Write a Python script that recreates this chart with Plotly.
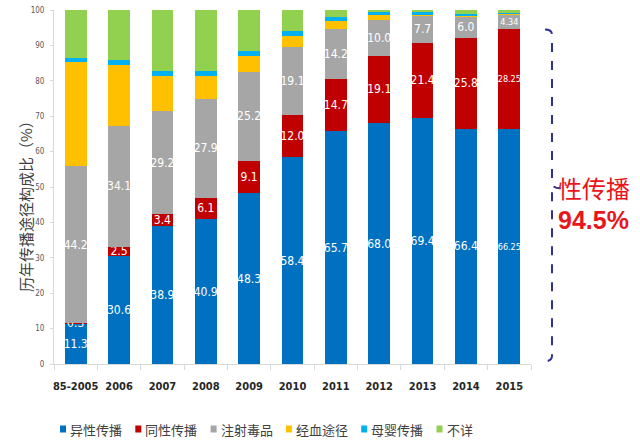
import plotly.graph_objects as go

categories = ["85-2005", "2006", "2007", "2008", "2009", "2010", "2011", "2012", "2013", "2014", "2015"]
series_names = ["异性传播", "同性传播", "注射毒品", "经血途径", "母婴传播", "不详"]
hetero = [11.3, 30.6, 38.9, 40.9, 48.3, 58.4, 65.7, 68.0, 69.4, 66.4, 66.25]
homo = [0.3, 2.5, 3.4, 6.1, 9.1, 12.0, 14.7, 19.1, 21.4, 25.8, 28.25]
idu = [44.2, 34.1, 29.2, 27.9, 25.2, 19.1, 14.2, 10.0, 7.7, 6.0, 4.34]
blood = [29.5, 17.2, 9.8, 6.4, 4.4, 3.2, 2.4, 1.4, 0.2, 0.2, 0.1]
mtct = [1.2, 1.4, 1.4, 1.4, 1.5, 1.4, 1.1, 0.8, 1.0, 0.5, 0.3]
unknown = [13.5, 14.2, 17.3, 17.3, 11.5, 5.9, 1.9, 0.7, 0.3, 1.1, 0.76]
colors = ["#0070C0", "#C00000", "#A6A6A6", "#FFC000", "#00B0F0", "#92D050"]
labeled = [True, True, True, False, False, False]
y_ticks = list(range(0, 101, 10))
y_title = "历年传播途径构成比（%）"
note_line1 = "性传播"
note_line2 = "94.5%"

series = [hetero, homo, idu, blood, mtct, unknown]

W, H = 640, 443
ML, MR, MT, MB = 54, 109, 10, 79
PW = W - ML - MR
PH = H - MT - MB
COND = "DejaVu Sans Condensed, DejaVu Sans, sans-serif"

def px_to_paper_x(px):
    return (px - ML) / PW

def px_to_paper_y(py):
    return (H - MB - py) / PH

fig = go.Figure()
for name, vals, col, lab in zip(series_names, series, colors, labeled):
    if lab:
        txt = [str(v) for v in vals]
        sizes = [9 if len(str(v).split(".")[-1]) > 1 else 12 for v in vals]
    else:
        txt = None
        sizes = 12
    fig.add_trace(go.Bar(
        x=categories, y=vals, name=name, marker=dict(color=col, line=dict(width=0)),
        text=txt, textposition="inside" if lab else "none", insidetextanchor="middle",
        textangle=0, constraintext="none",
        textfont=dict(family=COND, size=sizes, color="white"),
        showlegend=False,
    ))

fig.update_layout(
    barmode="stack", bargap=0.5,
    width=W, height=H,
    margin=dict(l=ML, r=MR, t=MT, b=MB, autoexpand=False),
    paper_bgcolor="white", plot_bgcolor="white",
    font=dict(family=COND, color="#404040"),
)
fig.update_xaxes(
    showline=True, linecolor="#D9D9D9", linewidth=1,
    ticks="outside", tickson="boundaries", ticklen=5, tickcolor="#D9D9D9",
    tickfont=dict(family=COND, size=11, color="#262626", weight="bold"),
    tickangle=0, automargin=False, ticklabelstandoff=12,
)
fig.update_yaxes(
    range=[0, 100], tickvals=y_ticks, showgrid=False,
    showline=True, linecolor="#D9D9D9", linewidth=1,
    ticks="outside", ticklen=3, tickcolor="#D9D9D9",
    tickfont=dict(family=COND, size=8, color="#595959"),
    ticklabelstandoff=4, zeroline=False, automargin=False,
)

# y-axis title
fig.add_annotation(
    text=y_title, textangle=-90, xref="paper", yref="paper",
    x=px_to_paper_x(25), y=px_to_paper_y(203), xanchor="center", yanchor="middle",
    showarrow=False,
    font=dict(family="Noto Sans CJK SC", size=15, color="#404040"),
)

# legend (manual)
leg_y = 429
for i, (name, col) in enumerate(zip(series_names, colors)):
    x0 = 60 + i * 75.3
    fig.add_shape(type="rect", xref="paper", yref="paper",
                  x0=px_to_paper_x(x0), x1=px_to_paper_x(x0 + 6),
                  y0=px_to_paper_y(leg_y + 3.5), y1=px_to_paper_y(leg_y - 3.5),
                  fillcolor=col, line=dict(width=0))
    fig.add_annotation(text=name, xref="paper", yref="paper",
                       x=px_to_paper_x(x0 + 8), y=px_to_paper_y(leg_y),
                       xanchor="left", yanchor="middle", showarrow=False,
                       font=dict(family="Noto Sans CJK SC", size=13, color="#404040"))

# brace for sexual transmission share of last year
top = hetero[-1] + homo[-1]
bot = 0.8
mid = (top + bot) / 2 + 2
xa, xb, xc = px_to_paper_x(545), px_to_paper_x(552), px_to_paper_x(561)
d = 1.5
path = (f"M{xa},{top} Q{xb},{top} {xb},{top - d} L{xb},{mid + d} Q{xb},{mid} {xc},{mid} "
        f"Q{xb},{mid} {xb},{mid - d} L{xb},{bot + d} Q{xb},{bot} {xa},{bot}")
fig.add_shape(type="path", xref="paper", yref="y", path=path,
              line=dict(color="#2E3192", width=2, dash="dash"))

fig.add_annotation(text=note_line1, xref="paper", yref="paper",
                   x=px_to_paper_x(556), y=px_to_paper_y(187), xanchor="left", yanchor="middle",
                   showarrow=False, font=dict(family="Noto Sans CJK SC", size=24, color="#E8161B"))
fig.add_annotation(text=note_line2, xref="paper", yref="paper",
                   x=px_to_paper_x(556), y=px_to_paper_y(220), xanchor="left", yanchor="middle",
                   showarrow=False, font=dict(family="Liberation Sans", size=25, color="#E8161B", weight="bold"))

fig.write_html("out.html", config={"displayModeBar": False},
               post_script="document.body.style.margin='0';document.body.style.overflow='hidden';")
